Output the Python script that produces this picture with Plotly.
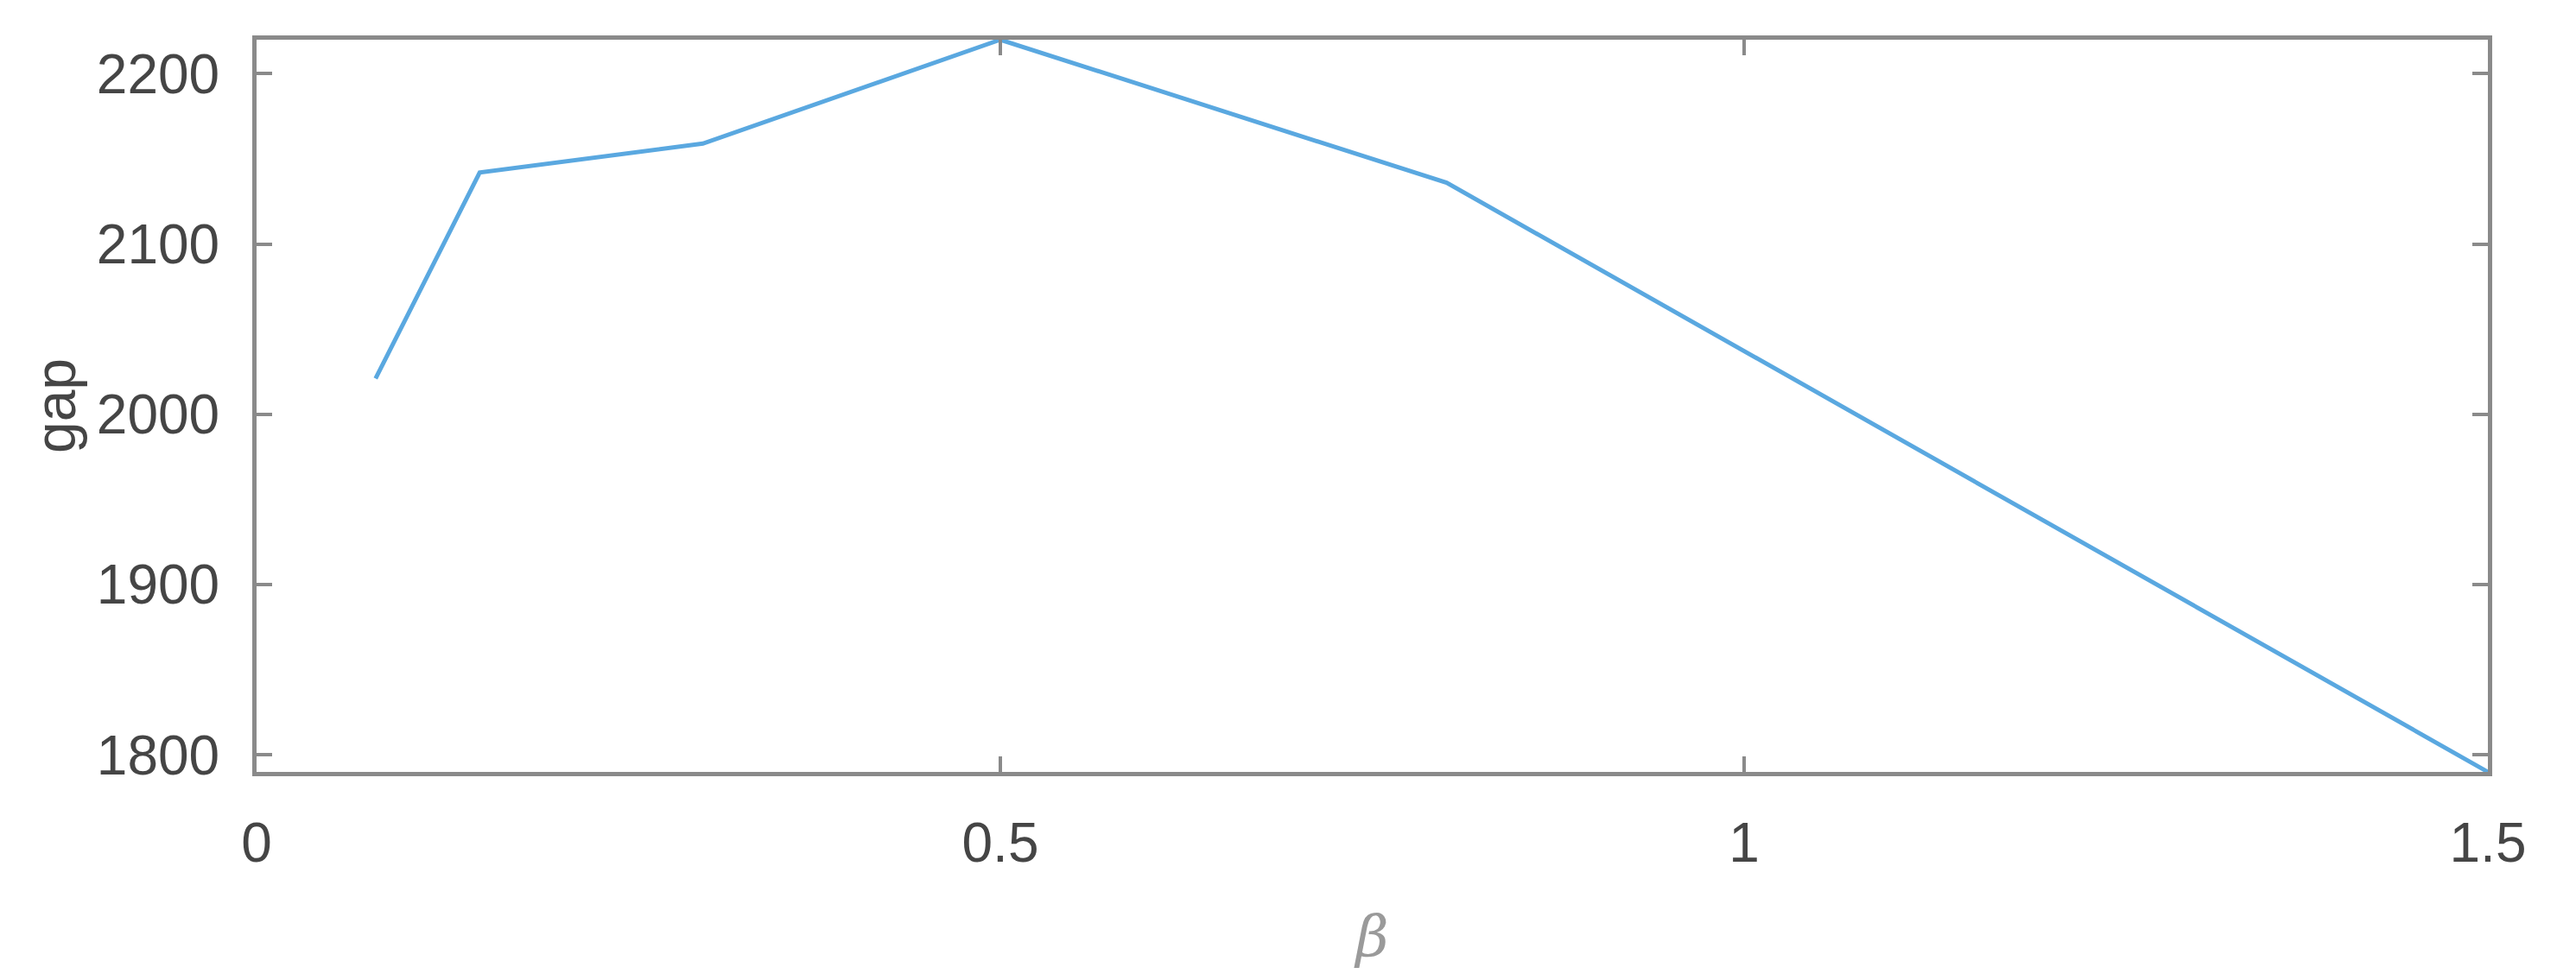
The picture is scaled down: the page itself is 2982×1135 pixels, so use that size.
import plotly.graph_objects as go

# data
beta = [0.08, 0.15, 0.30, 0.50, 0.80, 1.50]
gap = [2021, 2142, 2159, 2220, 2136, 1790]

x_ticks = [0, 0.5, 1, 1.5]
x_labels = ['0', '0.5', '1', '1.5']
y_ticks = [1800, 1900, 2000, 2100, 2200]

axis_col = '#8a8a8a'
text_col = '#454545'

fig = go.Figure()
fig.add_trace(go.Scatter(x=beta, y=gap, mode='lines',
                         line=dict(color='#5aa8e0', width=5),
                         showlegend=False, cliponaxis=False))

fig.update_layout(width=2982, height=1135,
                  margin=dict(l=289, r=110, t=38, b=249),
                  paper_bgcolor='white', plot_bgcolor='white',
                  font=dict(family='Liberation Sans, Arial', color=text_col, size=64))

fig.update_xaxes(range=[0, 1.5], tickvals=x_ticks, ticktext=x_labels,
                 showgrid=False, zeroline=False,
                 showline=True, mirror='ticks', linecolor=axis_col, linewidth=5,
                 ticks='inside', ticklen=18, tickwidth=4, tickcolor=axis_col,
                 ticklabelstandoff=22,
                 title=dict(text='β', font=dict(family='DejaVu Serif', size=66, color='#9a9a9a', style='italic'),
                            standoff=52))
fig.update_yaxes(range=[1790, 2220], tickvals=y_ticks,
                 showgrid=False, zeroline=False,
                 showline=True, mirror='ticks', linecolor=axis_col, linewidth=5,
                 ticks='inside', ticklen=18, tickwidth=4, tickcolor=axis_col,
                 ticklabelstandoff=25,
                 title=dict(text='gap', font=dict(size=66, color=text_col), standoff=4))

fig.write_html("out.html")
